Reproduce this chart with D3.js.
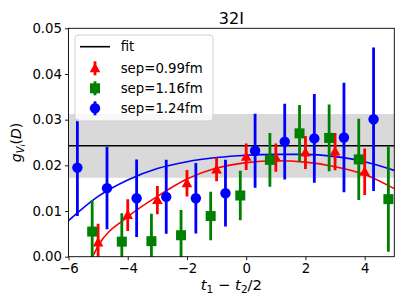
<!DOCTYPE html>
<html lang="en">
<head>
<meta charset="UTF-8">
<title>32I</title>
<script src="https://d3js.org/d3.v7.min.js"></script>
<style>
    body { margin: 0; padding: 0; background: #fff; }
    svg { display: block; font-family: "DejaVu Sans", sans-serif; }
</style>
</head>
<body>
<div id="chart"></div>
<script>
// data
var redX = [-5, -4, -3, -2, -1, 0, 1, 2, 3, 4];
var redY = [0.0031, 0.0091, 0.0124, 0.0161, 0.0191, 0.0219, 0.0217, 0.0228, 0.0230, 0.0186];
var redErr = [0.0041, 0.0035, 0.0031, 0.0029, 0.0026, 0.0029, 0.0031, 0.0036, 0.0041, 0.0051];

var greenX = [-5.2, -4.2, -3.2, -2.2, -1.2, -0.2, 0.8, 1.8, 2.8, 3.8, 4.8];
var greenY = [0.0055, 0.0033, 0.0034, 0.0047, 0.0089, 0.0134, 0.0212, 0.0270, 0.0260, 0.0213, 0.0126];
var greenErr = [0.0069, 0.0062, 0.0060, 0.0055, 0.0053, 0.0054, 0.0059, 0.0062, 0.0073, 0.0089, 0.0115];

var blueX = [-5.7, -4.7, -3.7, -2.7, -1.7, -0.7, 0.3, 1.3, 2.3, 3.3, 4.3];
var blueY = [0.0195, 0.0150, 0.0128, 0.0131, 0.0128, 0.0139, 0.0232, 0.0252, 0.0259, 0.0261, 0.0301];
var blueErr = [0.0106, 0.0090, 0.0085, 0.0081, 0.0077, 0.0073, 0.0081, 0.0083, 0.0097, 0.0120, 0.0157];

// fitted curves
var curveX = [-6, -5, -4, -3, -2, -1, 0, 1, 2, 3, 4, 5];
var blueCurve = [0.0079, 0.0132, 0.0168, 0.0193, 0.0208, 0.0217, 0.0222, 0.0224, 0.0224, 0.0219, 0.0208, 0.0189];
var redCurveX = [-5.3, -5.2, -5, -4, -3, -2, -1, 0, 1, 2, 3, 4, 5];
var redCurve = [-0.0006, 0.0, 0.0024, 0.0087, 0.0132, 0.0170, 0.0194, 0.0206, 0.0210, 0.0207, 0.0197, 0.0180, 0.0149];

// constant fit and band
var fitValue = 0.02429;
var bandLow = 0.01729;
var bandHigh = 0.03123;

var xTicks = [-6, -4, -2, 0, 2, 4];
var yTicks = [0, 0.01, 0.02, 0.03, 0.04, 0.05];
var legendLabels = ["fit", "sep=0.99fm", "sep=1.16fm", "sep=1.24fm"];

var svgWidth = 407, svgHeight = 305;
var margin = { top: 28.3, right: 12.7, bottom: 48.3, left: 68.5 };
var width = svgWidth - margin.left - margin.right;
var height = svgHeight - margin.top - margin.bottom;

var svg = d3.select("#chart").append("svg")
    .attr("width", svgWidth)
    .attr("height", svgHeight);

var g = svg.append("g")
    .attr("transform", "translate(" + margin.left + "," + margin.top + ")");

var x = d3.scaleLinear().domain([-6, 5]).range([0, width]);
var y = d3.scaleLinear().domain([0, 0.05]).range([height, 0]);

svg.append("defs").append("clipPath").attr("id", "plotclip")
    .append("rect").attr("width", width).attr("height", height);

var plot = g.append("g").attr("clip-path", "url(#plotclip)");

// gray band
plot.append("rect")
    .attr("x", x(-6)).attr("width", x(5) - x(-6))
    .attr("y", y(bandHigh)).attr("height", y(bandLow) - y(bandHigh))
    .attr("fill", "#d9d9d9");

// curves
var line = d3.line().curve(d3.curveMonotoneX);
plot.append("path")
    .attr("d", line(curveX.map((d, i) => [x(d), y(blueCurve[i])])))
    .attr("fill", "none").attr("stroke", "#0000ff").attr("stroke-width", 1.6);
plot.append("path")
    .attr("d", line(redCurveX.map((d, i) => [x(d), y(redCurve[i])])))
    .attr("fill", "none").attr("stroke", "#ff0000").attr("stroke-width", 1.6);

// fit line
plot.append("line")
    .attr("x1", x(-6)).attr("x2", x(5))
    .attr("y1", y(fitValue)).attr("y2", y(fitValue))
    .attr("stroke", "black").attr("stroke-width", 1.6);

function triPath(s) {
    return "M0," + (-s * 1.05) + "L" + s + "," + (s * 0.75) + "L" + (-s) + "," + (s * 0.75) + "Z";
}

function drawSeries(xs, ys, errs, color, shape) {
    var grp = plot.append("g");
    xs.forEach(function(d, i) {
        grp.append("line")
            .attr("x1", x(d)).attr("x2", x(d))
            .attr("y1", y(ys[i] - errs[i])).attr("y2", y(ys[i] + errs[i]))
            .attr("stroke", color).attr("stroke-width", 2.8);
    });
    xs.forEach(function(d, i) {
        drawMarker(grp, x(d), y(ys[i]), color, shape);
    });
}

function drawMarker(grp, cx, cy, color, shape) {
    if (shape === "circle") {
        grp.append("circle").attr("cx", cx).attr("cy", cy).attr("r", 5.2).attr("fill", color);
    } else if (shape === "square") {
        grp.append("rect").attr("x", cx - 5).attr("y", cy - 5)
            .attr("width", 10).attr("height", 10).attr("fill", color);
    } else {
        grp.append("path").attr("d", triPath(5.3))
            .attr("transform", "translate(" + cx + "," + cy + ")").attr("fill", color);
    }
}

drawSeries(redX, redY, redErr, "#ff0000", "triangle");
drawSeries(greenX, greenY, greenErr, "#008000", "square");
drawSeries(blueX, blueY, blueErr, "#0000ff", "circle");

// axes
var xAxis = g.append("g")
    .attr("transform", "translate(0," + height + ")")
    .call(d3.axisBottom(x).tickValues(xTicks).tickSize(3.5).tickPadding(3)
        .tickFormat(d => d3.format("d")(d).replace("-", "\u2212")));
var yAxis = g.append("g")
    .call(d3.axisLeft(y).tickValues(yTicks).tickSize(3.5).tickPadding(3)
        .tickFormat(d3.format(".2f")));
[xAxis, yAxis].forEach(function(a) {
    a.select(".domain").remove();
    a.selectAll("text").attr("font-size", 13.3).attr("fill", "black")
        .attr("font-family", "DejaVu Sans");
    a.selectAll("line").attr("stroke", "black").attr("stroke-width", 0.9);
});

// frame
g.append("rect").attr("width", width).attr("height", height)
    .attr("fill", "none").attr("stroke", "black").attr("stroke-width", 0.9);

// title
svg.append("text")
    .attr("x", margin.left + width / 2).attr("y", 24)
    .attr("text-anchor", "middle").attr("font-size", 16)
    .text("32I");

// x label
var xl = svg.append("text")
    .attr("x", margin.left + width / 2).attr("y", 290)
    .attr("text-anchor", "middle").attr("font-size", 14.8);
xl.append("tspan").attr("font-style", "italic").text("t");
xl.append("tspan").attr("font-size", 10.5).attr("dy", 2.5).text("1");
xl.append("tspan").attr("dy", -2.5).text(" \u2212 ");
xl.append("tspan").attr("font-style", "italic").text("t");
xl.append("tspan").attr("font-size", 10.5).attr("dy", 2.5).text("2");
xl.append("tspan").attr("dy", -2.5).text("/2");

// y label
var yl = svg.append("text")
    .attr("transform", "translate(21," + (margin.top + height / 2) + ") rotate(-90)")
    .attr("text-anchor", "middle").attr("font-size", 14);
yl.append("tspan").attr("font-style", "italic").text("g");
yl.append("tspan").attr("font-style", "italic").attr("font-size", 9.8).attr("dy", 2.5).text("V");
yl.append("tspan").attr("font-style", "italic").attr("font-size", 7.2).attr("dy", 1.5).text("i");
yl.append("tspan").attr("dy", -4).text("(");
yl.append("tspan").attr("font-style", "italic").text("D");
yl.append("tspan").text(")");

// legend
var legend = svg.append("g").attr("transform", "translate(75,35)");
legend.append("rect")
    .attr("width", 138).attr("height", 86).attr("rx", 3)
    .attr("fill", "white").attr("fill-opacity", 0.8)
    .attr("stroke", "#cccccc").attr("stroke-width", 0.9);
var rowY = [11.7, 33.3, 53.3, 73.3];
legend.append("line").attr("x1", 5).attr("x2", 35)
    .attr("y1", rowY[0]).attr("y2", rowY[0])
    .attr("stroke", "black").attr("stroke-width", 1.6);
var legColors = ["#ff0000", "#008000", "#0000ff"];
var legShapes = ["triangle", "square", "circle"];
legColors.forEach(function(c, i) {
    legend.append("line").attr("x1", 20).attr("x2", 20)
        .attr("y1", rowY[i + 1] - 7).attr("y2", rowY[i + 1] + 7)
        .attr("stroke", c).attr("stroke-width", 2.8);
    drawMarker(legend, 20, rowY[i + 1], c, legShapes[i]);
});
legendLabels.forEach(function(t, i) {
    legend.append("text").attr("x", 45.7).attr("y", rowY[i])
        .attr("dy", "0.35em").attr("font-size", 13.3).text(t);
});
</script>
</body>
</html>
